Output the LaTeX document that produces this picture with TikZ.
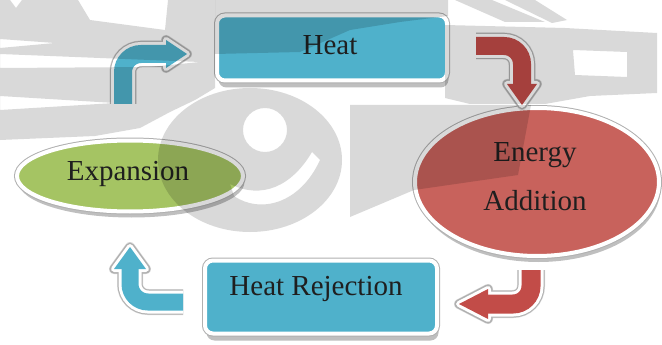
\documentclass[tikz,border=0pt]{standalone}
\usepackage{fontspec}
\setmainfont{Liberation Serif}
\usetikzlibrary{calc,shadows,shapes.geometric}

\definecolor{cyanfill}{HTML}{4FB1CB}
\definecolor{redfill}{HTML}{C8625C}
\definecolor{redarrow}{HTML}{C24C48}
\definecolor{greenfill}{HTML}{A5C463}
\definecolor{rimgrey}{HTML}{B0B0B0}

% Bent block arrow: #1 colour, #2 start, #3 |- or -|, #4 head base, #5 tip,
% #6 shaft width, #7 half width of the head
\newcommand{\bendarrow}[7]{%
  \coordinate (ha) at ($(#4)!#7pt!90:(#5)$);
  \coordinate (hb) at ($(#4)!#7pt!-90:(#5)$);
  \begin{scope}[shift={(1.5,3)}]
    \draw[black!14, line width=#6+9, rounded corners=18] (#2) #3 (#4);
    \filldraw[black!14, line width=10, line join=round] (ha) -- (#5) -- (hb) -- cycle;
  \end{scope}
  \draw[rimgrey, line width=#6+8, rounded corners=18] (#2) #3 (#4);
  \filldraw[rimgrey, line width=9, line join=round] (ha) -- (#5) -- (hb) -- cycle;
  \draw[white, line width=#6+6, rounded corners=18] (#2) #3 (#4);
  \filldraw[white, line width=6, line join=round] (ha) -- (#5) -- (hb) -- cycle;
  \draw[#1, line width=#6, rounded corners=18] (#2) #3 (#4);
  \fill[#1] (ha) -- (#5) -- (hb) -- cycle;
}

\begin{document}
\begin{tikzpicture}[x=1pt, y=-1pt,
  every node/.style={font=\fontsize{29}{34}\selectfont, text=black!88},
  panel/.style={rectangle, rounded corners=8, fill=cyanfill, draw=white, line width=4,
    drop shadow={shadow xshift=1.5pt, shadow yshift=-7pt, fill=black, opacity=.25},
    preaction={draw=rimgrey, line width=6}},
  oval/.style={ellipse, draw=white, line width=4, align=center, inner sep=0pt,
    drop shadow={shadow xshift=1.5pt, shadow yshift=-6pt, fill=black, opacity=.25},
    preaction={draw=rimgrey, line width=6}},
  wm/.style={fill=black, fill opacity=.15}]
\useasboundingbox (0,0) rectangle (662,345);
\fill[white] (0,0) rectangle (662,345);

% the four stages
\node[panel, minimum width=230, minimum height=65] (heat) at (332,48) {};
\node (heattext) at (330,45) {Heat};
\node[oval, fill=redfill, minimum width=244, minimum height=148] (energy) at (537,182) {};
\node[align=center] (energytext) at (535,177) {Energy\\[15pt]Addition};
\node[panel, minimum width=232, minimum height=73] (rej) at (321,297) {};
\node (rejtext) at (316,289) {Heat Rejection};
\node[oval, fill=greenfill, minimum width=226, minimum height=71] (expansion) at (130,176) {};
\node (exptext) at (128,174) {Expansion};

% curved arrows between the stages
\coordinate (a1s) at (123,104); \coordinate (a1b) at (166,54); \coordinate (a1t) at (187,54);
\coordinate (a2s) at (476,46);  \coordinate (a2b) at (522,84); \coordinate (a2t) at (522,105);
\coordinate (a3s) at (531,270); \coordinate (a3b) at (488,304); \coordinate (a3t) at (459,304);
\coordinate (a4s) at (183,302); \coordinate (a4b) at (130,269); \coordinate (a4t) at (130,247);
\bendarrow{cyanfill}{a1s}{|-}{a1b}{a1t}{18}{14}
\bendarrow{redarrow}{a2s}{-|}{a2b}{a2t}{18}{15}
\bendarrow{redarrow}{a3s}{|-}{a3b}{a3t}{19}{15}
\bendarrow{cyanfill}{a4s}{-|}{a4b}{a4t}{17}{16}

% faint emblem in the background
\fill[wm, even odd rule]
  (0,0) -- (78,0) -- (90,20) -- (165,30) -- (168,0) -- (215,0) -- (215,88)
  -- (195,100) -- (170,112) -- (140,128) -- (95,136) -- (0,140) -- cycle
  (0,39) -- (55,43) -- (0,48) -- cycle
  (0,54) -- (200,62) -- (150,67) -- (0,68) -- cycle
  (0,96) -- (115,103) -- (0,110) -- cycle
  (10,0) -- (22,0) -- (16,8) -- cycle;
\fill[wm] (215,0) -- (448,0) -- (448,16) -- (400,22) -- (350,30) -- (300,52) -- (215,54) -- cycle;
\fill[wm, even odd rule]
  (250,160) ellipse [x radius=92, y radius=72]
  (265,130) circle [radius=22]
  (230,184) .. controls (262,200) and (292,186) .. (312,152)
  -- (320,160) .. controls (300,204) and (260,214) .. (234,196) -- cycle;
\fill[wm] (350,105) -- (531,105) -- (518,175) -- (414,190) -- (350,217) -- cycle;
\fill[wm, even odd rule]
  (445,25) -- (565,28) -- (657,33) -- (657,93) -- (590,96) -- (545,104) -- (470,104)
  -- (445,98) -- cycle
  (573,50) -- (627,52) -- (627,77) -- (575,75) -- cycle;
\fill[wm] (455,0) -- (492,0) -- (545,22) -- (505,22) -- cycle;
\fill[wm] (505,0) -- (535,0) -- (567,20) -- (552,23) -- cycle;
\end{tikzpicture}
\end{document}
